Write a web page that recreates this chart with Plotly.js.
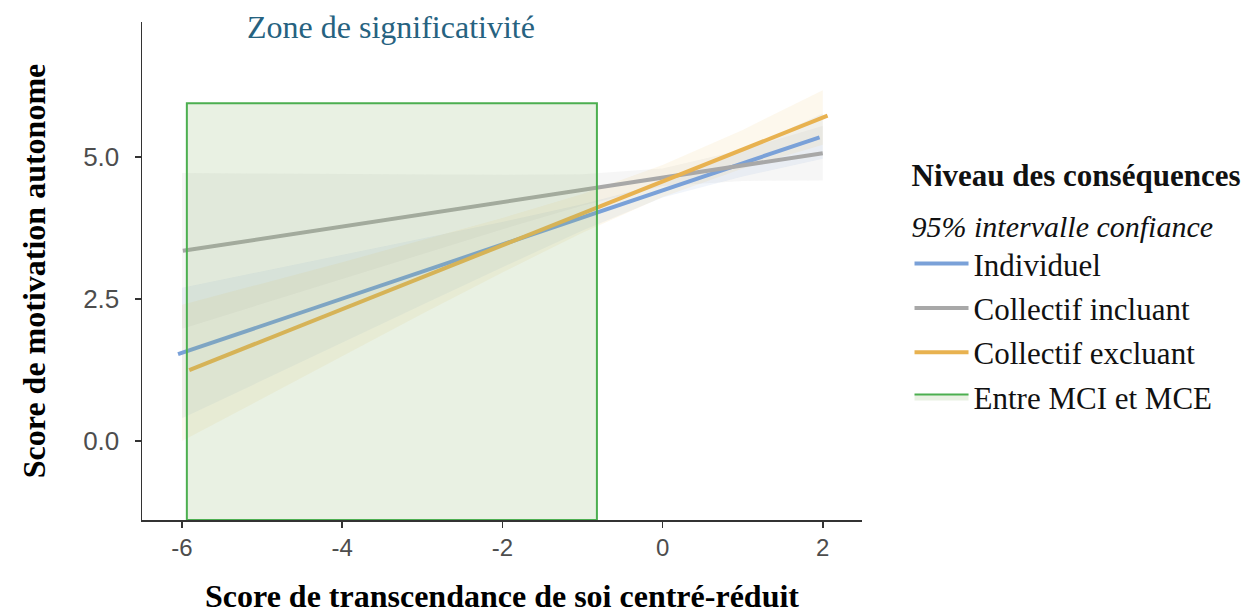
<!DOCTYPE html>
<html>
<head>
<meta charset="utf-8">
<script src="https://cdn.plot.ly/plotly-3.0.1.min.js"></script>
<style>html,body{margin:0;padding:0;background:#fff;}#chart{width:1253px;height:614px;}</style>
</head>
<body>
<div id="chart"></div>
<script>
// ---- data ----
const seriesNames = ["Individuel", "Collectif incluant", "Collectif excluant"];
const zoneName = "Entre MCI et MCE";

// fitted lines (start / end)
const lineX_ind = [-6.05, 1.96];
const lineY_ind = [1.53, 5.35];
const lineX_inc = [-5.99, 2.0];
const lineY_inc = [3.35, 5.07];
const lineX_exc = [-5.91, 2.06];
const lineY_exc = [1.25, 5.73];

// 95% confidence bands
const bandX = [-6, -5, -4, -3, -2, -1, 0, 1, 2];
const ind_low = [0.40, 1.07, 1.73, 2.40, 3.06, 3.71, 4.29, 4.66, 4.97];
const ind_up  = [2.70, 2.99, 3.27, 3.57, 3.86, 4.17, 4.54, 5.12, 5.77];
const inc_low = [1.98, 2.42, 2.86, 3.30, 3.73, 4.15, 4.49, 4.58, 4.59];
const inc_up  = [4.72, 4.71, 4.70, 4.69, 4.69, 4.70, 4.80, 5.13, 5.55];
const exc_low = [0.00, 0.75, 1.50, 2.24, 2.97, 3.67, 4.30, 4.80, 5.22];
const exc_up  = [2.40, 2.77, 3.15, 3.54, 3.93, 4.35, 4.86, 5.48, 6.18];

// significance zone
const zoneX = [-5.94, -0.82];
const zoneY = [-1.39, 5.95];
const zoneLabel = "Zone de significativité";

const xTicks = [-6, -4, -2, 0, 2];
const yTicks = [0, 2.5, 5];
const yTickText = ["0.0", "2.5", "5.0"];

// ---- styles ----
const colInd = "rgb(122,161,216)";
const colInc = "rgb(168,168,168)";
const colExc = "rgb(232,178,80)";
const serif = "Liberation Serif, Times New Roman, serif";
const sans = "Liberation Sans, Arial, sans-serif";

function band(lo, up, fill) {
  return [
    {x: bandX, y: lo, mode: "lines", line: {width: 0}, hoverinfo: "skip", showlegend: false},
    {x: bandX, y: up, mode: "lines", line: {width: 0}, fill: "tonexty", fillcolor: fill, hoverinfo: "skip", showlegend: false}
  ];
}

const traces = [].concat(
  band(inc_low, inc_up, "rgba(150,150,150,0.09)"),
  band(ind_low, ind_up, "rgba(122,161,216,0.10)"),
  band(exc_low, exc_up, "rgba(240,190,90,0.11)"),
  [
    {x: lineX_ind, y: lineY_ind, mode: "lines", name: seriesNames[0], line: {color: colInd, width: 4}, legendgroup: "a"},
    {x: lineX_inc, y: lineY_inc, mode: "lines", name: seriesNames[1], line: {color: colInc, width: 4}, legendgroup: "b"},
    {x: lineX_exc, y: lineY_exc, mode: "lines", name: seriesNames[2], line: {color: colExc, width: 4}, legendgroup: "c"},
    {x: [zoneX[0], zoneX[1], zoneX[1], zoneX[0], zoneX[0]],
     y: [zoneY[0], zoneY[0], zoneY[1], zoneY[1], zoneY[0]],
     mode: "lines", fill: "toself", fillcolor: "rgba(145,185,115,0.2)",
     line: {color: "rgb(76,175,80)", width: 2}, name: zoneName, legendgroup: "d"}
  ]
);

const layout = {
  width: 1253, height: 614,
  margin: {l: 142, r: 391, t: 22, b: 94, autoexpand: false},
  paper_bgcolor: "#fff", plot_bgcolor: "#fff",
  showlegend: true,
  legend: {
    x: 1.066, xanchor: "left", y: 0.772, yanchor: "top",
    font: {family: serif, size: 31, color: "#111"},
    title: {text: "<span style=\"font-size:31px\"><b>Niveau des conséquences</b></span><br><span style=\"font-size:30px\"><i>95% intervalle confiance</i></span>",
            font: {family: serif, size: 39, color: "#111"}},
    traceorder: "grouped", tracegroupgap: 1, itemwidth: 54,
    bgcolor: "rgba(0,0,0,0)"
  },
  xaxis: {
    range: [-6.5, 2.49], tickvals: xTicks, ticktext: xTicks.map(String),
    showgrid: false, zeroline: false, showline: true, linecolor: "#333", linewidth: 1.5,
    ticks: "outside", ticklen: 6, tickwidth: 1.5, tickcolor: "#333",
    tickfont: {family: sans, size: 24, color: "#4d4d4d"},
    title: {text: "Score de transcendance de soi centré-réduit", font: {family: serif, size: 32, color: "#000", weight: "bold"}, standoff: 32}
  },
  yaxis: {
    range: [-1.39, 7.38], tickvals: yTicks, ticktext: yTickText,
    showgrid: false, zeroline: false, showline: true, linecolor: "#333", linewidth: 1.5,
    ticks: "outside", ticklen: 6, tickwidth: 1.5, tickcolor: "#333",
    ticklabelstandoff: 10,
    tickfont: {family: sans, size: 26, color: "#4d4d4d"},
    title: {text: "Score de motivation autonome", font: {family: serif, size: 32, color: "#000", weight: "bold"}, standoff: 28}
  },
  annotations: [
    {x: -3.39, y: 7.29, xref: "x", yref: "y", text: zoneLabel, showarrow: false,
     font: {family: serif, size: 32, color: "rgb(38,98,128)"}}
  ]
};

Plotly.newPlot("chart", traces, layout, {staticPlot: true, displayModeBar: false});
</script>
</body>
</html>
